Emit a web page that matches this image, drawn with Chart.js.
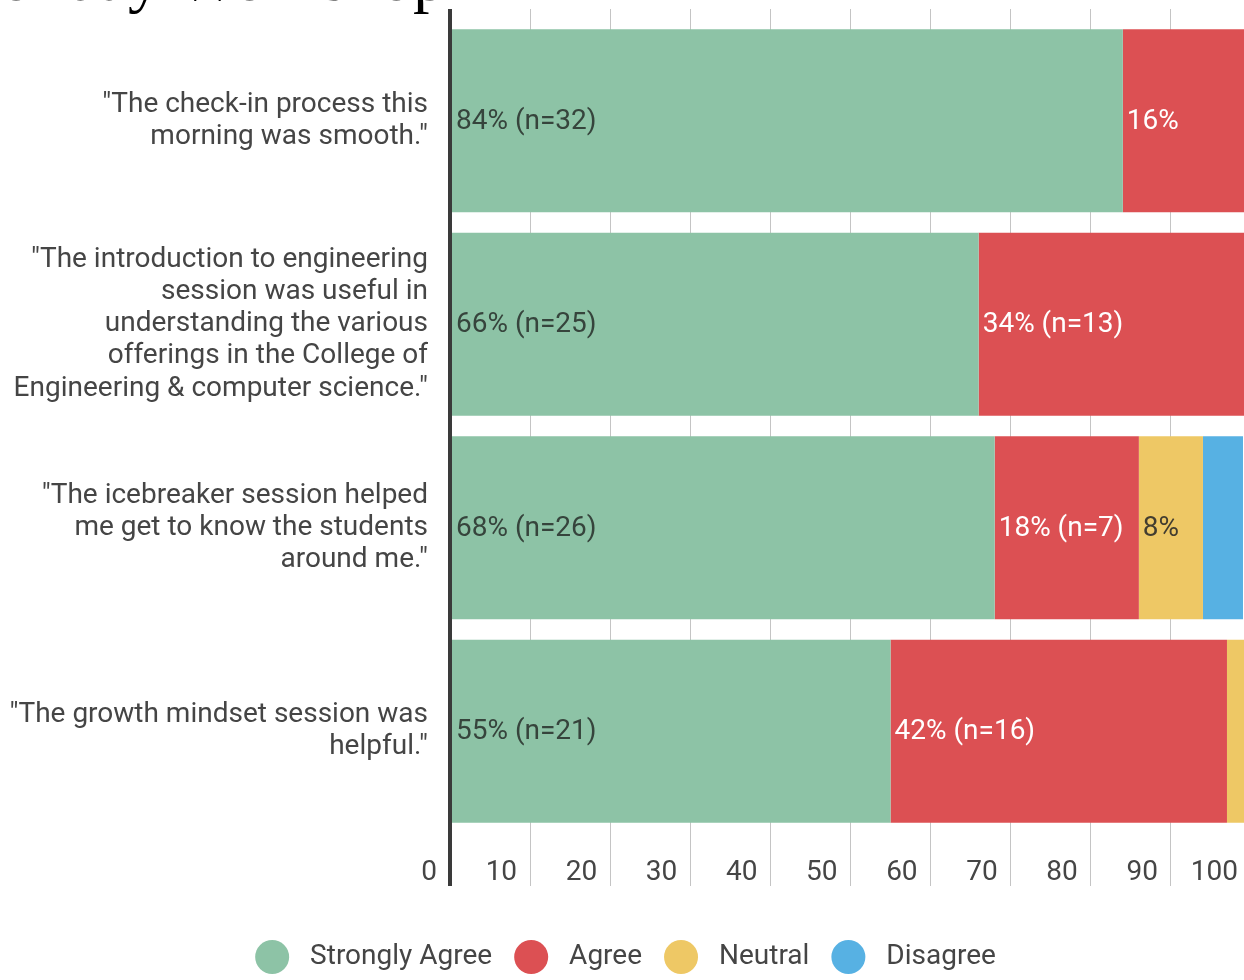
<!DOCTYPE html>
<html>
<head>
<meta charset="utf-8">
<title>Workshop survey</title>
<script src="https://cdn.jsdelivr.net/npm/chart.js@4"></script>
<style>
  html, body { margin: 0; padding: 0; background: #fff; overflow: hidden; }
  #wrap { position: relative; width: 1260px; height: 981px; }
  #title {
    position: absolute; top: -55px; right: 814px;
    font: 66px/66px 'Liberation Serif', serif; color: #000;
    white-space: nowrap; z-index: 2;
  }
  canvas { position: absolute; left: 0; top: 0; }
</style>
</head>
<body>
<div id="wrap">
  <div id="title">Monday Workshop</div>
  <canvas id="surveyChart" width="1260" height="981"></canvas>
</div>
<script>
// Survey questions (y axis, one array per wrapped label)
const questions = [
  ['"The check-in process this', 'morning was smooth."'],
  ['"The introduction to engineering', 'session was useful in', 'understanding the various', 'offerings in the College of', 'Engineering & computer science."'],
  ['"The icebreaker session helped', 'me get to know the students', 'around me."'],
  ['"The growth mindset session was', 'helpful."']
];

// Percent of responses per answer
const stronglyAgree = [84, 66, 68, 55];
const agree = [16, 34, 18, 42];
const neutral = [0, 0, 8, 3];
const disagree = [0, 0, 5, 0];

// Text printed inside each segment ('' = none)
const stronglyAgreeText = ['84% (n=32)', '66% (n=25)', '68% (n=26)', '55% (n=21)'];
const agreeText = ['16%', '34% (n=13)', '18% (n=7)', '42% (n=16)'];
const neutralText = ['', '', '8%', ''];
const disagreeText = ['', '', '', ''];

const xTicks = [0, 10, 20, 30, 40, 50, 60, 70, 80, 90, 100];

const COLORS = {
  strong: '#8dc3a6',
  agree: '#dc5053',
  neutral: '#eec865',
  disagree: '#57b1e3',
  grid: '#c4c4c4',
  axis: '#3a3a3a',
  text: '#454545'
};

Chart.defaults.font.family = "Roboto, 'Noto Sans', sans-serif";
Chart.defaults.font.size = 28;
Chart.defaults.color = COLORS.text;

// Writes the segment text at the left edge of every bar
const segmentText = {
  id: 'segmentText',
  afterDatasetsDraw(chart) {
    const ctx = chart.ctx;
    ctx.save();
    ctx.font = "28px Roboto, 'Noto Sans', sans-serif";
    ctx.textAlign = 'left';
    ctx.textBaseline = 'middle';
    chart.data.datasets.forEach((ds, i) => {
      const meta = chart.getDatasetMeta(i);
      meta.data.forEach((bar, j) => {
        const txt = ds.segmentText[j];
        if (!txt) return;
        ctx.fillStyle = ds.textColor;
        ctx.fillText(txt, bar.base + 4, bar.y + 1);
      });
    });
    ctx.restore();
  }
};

const gridWidth = c => (c.tick && c.tick.value === 0 ? 4 : 1);
const gridColor = c => (c.tick && c.tick.value === 0 ? COLORS.axis : COLORS.grid);

new Chart(document.getElementById('surveyChart'), {
  type: 'bar',
  data: {
    labels: questions,
    datasets: [
      { label: 'Strongly Agree', data: stronglyAgree, backgroundColor: COLORS.strong, segmentText: stronglyAgreeText, textColor: '#36443c' },
      { label: 'Agree', data: agree, backgroundColor: COLORS.agree, segmentText: agreeText, textColor: '#ffffff' },
      { label: 'Neutral', data: neutral, backgroundColor: COLORS.neutral, segmentText: neutralText, textColor: '#423d30' },
      { label: 'Disagree', data: disagree, backgroundColor: COLORS.disagree, segmentText: disagreeText, textColor: '#ffffff' }
    ]
  },
  options: {
    indexAxis: 'y',
    responsive: false,
    animation: false,
    barPercentage: 0.9,
    categoryPercentage: 1,
    layout: { padding: { top: 9, right: 9, bottom: 0, left: 0 } },
    scales: {
      x: {
        stacked: true,
        min: 0,
        max: 100,
        afterBuildTicks: s => { s.ticks = xTicks.map(v => ({ value: v })); },
        border: { display: false },
        grid: { color: gridColor, lineWidth: gridWidth, tickLength: 53 },
        ticks: {
          align: 'end',
          labelOffset: -13,
          padding: -29,
          font: { size: 28, lineHeight: 1.15 },
          color: COLORS.text
        },
        afterFit: s => { s.height = 88; }
      },
      xTop: {
        position: 'top',
        min: 0,
        max: 100,
        afterBuildTicks: s => { s.ticks = xTicks.map(v => ({ value: v })); },
        border: { display: false },
        grid: { drawOnChartArea: false, color: gridColor, lineWidth: gridWidth, tickLength: 10 },
        ticks: { display: false }
      },
      y: {
        stacked: true,
        border: { display: false },
        grid: { display: false },
        ticks: {
          padding: 14,
          font: { size: 28, lineHeight: 1.15 },
          color: COLORS.text
        },
        afterFit: s => {
          s.width = 450;
          s.paddingTop = 0;
          s.paddingBottom = 0;
        }
      }
    },
    plugins: {
      tooltip: { enabled: false },
      legend: {
        position: 'bottom',
        labels: {
          usePointStyle: true,
          pointStyle: 'circle',
          pointStyleWidth: 34,
          boxHeight: 24,
          padding: 22,
          color: COLORS.text,
          font: { size: 28 },
          generateLabels: chart => Chart.defaults.plugins.legend.labels.generateLabels(chart)
            .map(item => ({ ...item, text: ' ' + item.text, lineWidth: 0 }))
        }
      }
    }
  },
  plugins: [segmentText]
});
</script>
</body>
</html>
